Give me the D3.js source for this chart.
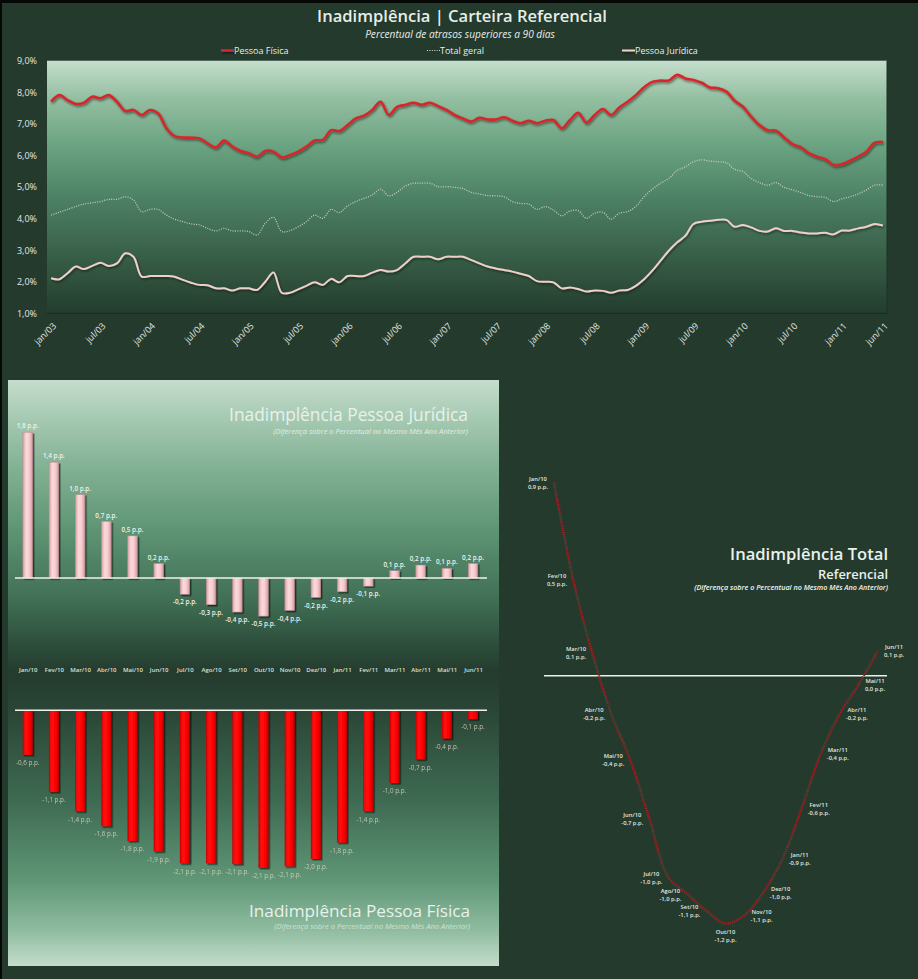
<!DOCTYPE html>
<html><head><meta charset="utf-8">
<script src="https://cdn.jsdelivr.net/npm/d3@7"></script>
<style>
body{margin:0;background:#243a2d;}
svg{display:block;font-family:'Open Sans',sans-serif;}
</style>
</head><body>
<svg id="c" width="918" height="979"></svg>
<script>
// ---------------- DATA ----------------
// monthly series jan/03 .. jun/11 (102 months), percent
const pessoaFisica = [7.70,7.91,7.75,7.63,7.67,7.86,7.81,7.91,7.70,7.41,7.44,7.28,7.44,7.33,6.86,6.61,6.57,6.56,6.54,6.38,6.25,6.47,6.28,6.14,6.07,5.96,6.14,6.12,5.94,6.01,6.12,6.28,6.47,6.49,6.80,6.77,6.96,7.17,7.26,7.44,7.70,7.28,7.54,7.60,7.67,7.60,7.67,7.56,7.44,7.28,
7.17,7.07,7.19,7.14,7.14,7.21,7.10,7.02,7.10,7.02,7.10,7.12,6.86,7.12,7.35,7.04,7.28,7.47,7.28,7.52,7.70,7.91,8.16,8.33,8.37,8.37,8.55,8.44,8.39,8.30,8.15,8.13,8.02,7.73,7.54,7.23,6.96,6.80,6.78,6.57,6.36,6.26,6.07,5.96,5.88,5.70,5.72,5.83,5.96,6.12,6.40,6.42];
const totalGeral = [4.11,4.20,4.29,4.38,4.46,4.50,4.54,4.61,4.61,4.69,4.59,4.22,4.29,4.29,4.11,3.98,3.90,3.83,3.80,3.69,3.61,3.69,3.61,3.61,3.59,3.48,3.85,4.04,3.59,3.62,3.74,3.90,4.11,4.01,4.29,4.19,4.40,4.54,4.64,4.75,4.93,4.72,4.83,5.03,5.12,5.12,5.12,5.01,5.01,4.99,
4.95,4.83,4.78,4.73,4.72,4.69,4.54,4.48,4.46,4.29,4.38,4.27,4.09,4.24,4.25,4.01,4.17,4.20,3.98,4.17,4.22,4.38,4.69,4.93,5.12,5.27,5.52,5.64,5.80,5.86,5.82,5.80,5.77,5.56,5.49,5.27,5.14,5.06,5.14,4.99,4.91,4.83,4.73,4.69,4.67,4.54,4.62,4.69,4.78,4.91,5.06,5.06];
const pessoaJuridica = [2.11,2.08,2.27,2.48,2.40,2.50,2.60,2.50,2.58,2.90,2.79,2.16,2.18,2.18,2.18,2.16,2.06,1.97,1.90,1.89,1.79,1.79,1.72,1.79,1.79,1.74,2.00,2.29,1.65,1.65,1.76,1.87,1.98,1.90,2.09,1.98,2.18,2.18,2.18,2.29,2.37,2.32,2.37,2.58,2.79,2.79,2.79,2.71,2.79,2.79,
2.79,2.69,2.58,2.48,2.42,2.37,2.32,2.25,2.18,2.02,2.00,1.98,1.79,1.82,1.77,1.69,1.72,1.71,1.65,1.72,1.74,1.87,2.08,2.35,2.67,2.98,3.24,3.45,3.83,3.90,3.93,3.96,3.96,3.74,3.80,3.72,3.61,3.59,3.69,3.61,3.61,3.56,3.53,3.53,3.55,3.50,3.62,3.62,3.69,3.74,3.83,3.78];
const topTickLabels = ["jan/03","jul/03","jan/04","jul/04","jan/05","jul/05","jan/06","jul/06","jan/07","jul/07","jan/08","jul/08","jan/09","jul/09","jan/10","jul/10","jan/11","jun/11"];
const yTicks = [1,2,3,4,5,6,7,8,9];
const legendNames = ["Pessoa Física","Total geral","Pessoa Jurídica"];

// year-on-year differences Jan/10 .. Jun/11 (p.p.)
const diffMonths = ["Jan/10","Fev/10","Mar/10","Abr/10","Mai/10","Jun/10","Jul/10","Ago/10","Set/10","Out/10","Nov/10","Dez/10","Jan/11","Fev/11","Mar/11","Abr/11","Mai/11","Jun/11"];
const diffPJ = [1.8,1.43,1.03,0.7,0.52,0.18,-0.2,-0.33,-0.42,-0.47,-0.4,-0.24,-0.17,-0.1,0.09,0.16,0.12,0.18];
const diffPF = [-0.6,-1.1,-1.36,-1.56,-1.76,-1.9,-2.06,-2.06,-2.07,-2.12,-2.1,-2.0,-1.78,-1.36,-0.98,-0.66,-0.38,-0.12];
const diffTotal = [0.92,0.46,0.11,-0.18,-0.40,-0.68,-0.96,-1.04,-1.12,-1.18,-1.14,-1.03,-0.87,-0.63,-0.37,-0.18,-0.04,0.12];
const totalLabelSide = ["l","l","l","l","l","l","l","l","l","b","r","r","r","r","r","r","r","r"];

// ---------------- HELPERS ----------------
const svg = d3.select('#c');
const defs = svg.append('defs');
function vGrad(id, stops){
  const g = defs.append('linearGradient').attr('id',id).attr('x1',0).attr('y1',0).attr('x2',0).attr('y2',1);
  stops.forEach(s=>g.append('stop').attr('offset',s[0]).attr('stop-color',s[1]));
}
function hGrad(id, stops){
  const g = defs.append('linearGradient').attr('id',id).attr('x1',0).attr('y1',0).attr('x2',1).attr('y2',0);
  stops.forEach(s=>g.append('stop').attr('offset',s[0]).attr('stop-color',s[1]));
}
vGrad('plotGrad',[[0,'#c4decc'],[0.15,'#93bfa1'],[0.35,'#68a17f'],[0.55,'#4c8064'],[0.75,'#3a624a'],[1,'#233d2e']]);
vGrad('panelGrad',[[0,'#c5ddcc'],[0.06,'#a8cbb4'],[0.154,'#80b092'],[0.256,'#5e9474'],[0.375,'#406f55'],[0.461,'#2b4a38'],[0.5,'#243b2e'],[0.56,'#2a4535'],[0.717,'#3e6a52'],[0.853,'#5f9676'],[0.939,'#8fbca0'],[1,'#c5ddcc']]);
hGrad('pinkGrad',[[0,'#d9a0a6'],[0.35,'#fbd9db'],[0.65,'#f7cdd0'],[1,'#d39aa0']]);
hGrad('redGrad',[[0,'#c80000'],[0.3,'#ff1010'],[0.7,'#ff0000'],[1,'#b80000']]);
const f = defs.append('filter').attr('id','shadow').attr('filterUnits','userSpaceOnUse')
  .attr('x',0).attr('y',0).attr('width',918).attr('height',979);
f.append('feDropShadow').attr('dx',1).attr('dy',1.5).attr('stdDeviation',0.8).attr('flood-color','#000').attr('flood-opacity',0.5);
const f2 = defs.append('filter').attr('id','barShadow').attr('x','-50%').attr('y','-10%').attr('width','200%').attr('height','130%');
f2.append('feDropShadow').attr('dx',1.5).attr('dy',1.5).attr('stdDeviation',0.7).attr('flood-color','#000').attr('flood-opacity',0.6);

function fit(sel, w){
  const n = sel.node(); const l = n.getComputedTextLength();
  const fs = parseFloat(sel.attr('font-size'));
  if(l>0) sel.attr('font-size', (fs*w/l).toFixed(2));
  return sel;
}
const fmtPP = v => { let s = v.toFixed(1); if (s==='-0.0') s='0.0'; return s.replace('.',',')+' p.p.'; };

// ---------------- BACKGROUND ----------------
svg.append('rect').attr('width',918).attr('height',979).attr('fill','#243a2d');
svg.append('rect').attr('width',918).attr('height',3).attr('fill','#050805');
svg.append('rect').attr('width',2).attr('height',979).attr('fill','#050805');

// ---------------- TOP CHART ----------------
const P = {l:47, r:887, t:60.7, b:313.3};
const x = d3.scaleLinear().domain([0, pessoaFisica.length-1]).range([51.1, 882.9]);
const y = d3.scaleLinear().domain([1,9]).range([P.b, P.t]);

fit(svg.append('text').attr('x',462).attr('y',22).attr('text-anchor','middle').attr('font-size',16)
  .attr('font-weight',600).attr('fill','#e6eee8').text('Inadimplência | Carteira Referencial'), 290);
fit(svg.append('text').attr('x',460).attr('y',37.5).attr('text-anchor','middle').attr('font-size',9)
  .attr('font-style','italic').attr('fill','#e6eee8').text('Percentual de atrasos superiores a 90 dias'), 190);

svg.append('rect').attr('x',P.l).attr('y',P.t).attr('width',P.r-P.l).attr('height',P.b-P.t).attr('fill','url(#plotGrad)');
svg.append('line').attr('x1',P.r).attr('x2',P.r).attr('y1',P.t).attr('y2',P.b).attr('stroke','#1d3326').attr('stroke-width',1);

const line = d3.line().x((d,i)=>x(i)).y(d=>y(d)).curve(d3.curveCatmullRom.alpha(0.5));
svg.append('path').datum(totalGeral).attr('d',line).attr('fill','none').attr('stroke','#d7dcd2')
  .attr('stroke-width',1.3).attr('stroke-dasharray','1,1.4').attr('opacity',0.85);
svg.append('path').datum(pessoaJuridica).attr('d',line).attr('fill','none').attr('stroke','#efd0c9')
  .attr('stroke-width',2).attr('filter','url(#shadow)');
svg.append('path').datum(pessoaFisica).attr('d',line).attr('fill','none').attr('stroke','#d7262c')
  .attr('stroke-width',2.6).attr('filter','url(#shadow)');

// axes
const yAxis = svg.append('g').attr('transform',`translate(${P.l},0)`)
  .call(d3.axisLeft(y).tickValues(yTicks).tickSize(0).tickPadding(10).tickFormat(d=>d.toFixed(1).replace('.',',')+'%'));
yAxis.select('.domain').remove();
yAxis.selectAll('text').attr('fill','#e2e9e2').attr('font-size',9).attr('font-family','Open Sans');

const tickIdx = topTickLabels.map(s=>{
  const mm = {jan:0,fev:1,mar:2,abr:3,mai:4,jun:5,jul:6,ago:7,set:8,out:9,nov:10,dez:11}[s.slice(0,3)];
  return (2000+ +s.slice(4)-2003)*12+mm;
});
const xAxis = svg.append('g').attr('transform',`translate(0,${P.b})`)
  .call(d3.axisBottom(x).tickValues(tickIdx).tickSize(0).tickFormat((d,i)=>topTickLabels[i]));
xAxis.select('.domain').attr('stroke','#1b2d22').attr('stroke-width',1.2).attr('d',`M${P.l},0H${P.r}`);
xAxis.selectAll('text').attr('fill','#e2e9e2').attr('font-size',9).attr('font-family','Open Sans')
  .attr('text-anchor','end').attr('x',0).attr('y',0).attr('dy','0.35em')
  .attr('transform','translate(3,11) rotate(-45)');

// legend
const legX = [221, 427, 622];
const legY = 50.5;
legendNames.forEach((nm,i)=>{
  const g = svg.append('g');
  const ln = g.append('line').attr('x1',legX[i]).attr('x2',legX[i]+13).attr('y1',legY).attr('y2',legY);
  if(i===0) ln.attr('stroke','#d7262c').attr('stroke-width',2.6).attr('filter','url(#shadow)');
  if(i===1) ln.attr('stroke','#d7dcd2').attr('stroke-width',1.2).attr('stroke-dasharray','1,1.4');
  if(i===2) ln.attr('stroke','#efd0c9').attr('stroke-width',2).attr('filter','url(#shadow)');
  g.append('text').attr('x',legX[i]+13).attr('y',legY).attr('dy','0.35em').attr('font-size',9)
    .attr('fill','#e6eee8').text(nm);
});

// ---------------- LEFT PANEL (bars) ----------------
svg.append('rect').attr('x',8).attr('y',380).attr('width',491).attr('height',586).attr('fill','url(#panelGrad)');

const xb = d3.scalePoint().domain(diffMonths).range([27.7, 473]);
const barW = 9.6;

// PJ
const yPJ = d3.scaleLinear().domain([-0.6,1.9]).range([578+0.6*81, 578-1.9*81]);
svg.append('g').selectAll('rect').data(diffPJ).join('rect')
  .attr('x',(d,i)=>xb(diffMonths[i])-barW/2).attr('width',barW)
  .attr('y',d=>Math.min(yPJ(d),yPJ(0))).attr('height',d=>Math.abs(yPJ(d)-yPJ(0)))
  .attr('fill','url(#pinkGrad)').attr('stroke','#b88890').attr('stroke-width',0.5).attr('filter','url(#barShadow)');
svg.append('line').attr('x1',15).attr('x2',487).attr('y1',yPJ(0)).attr('y2',yPJ(0)).attr('stroke','#f0f2f0').attr('stroke-width',1.5);
svg.append('g').selectAll('text').data(diffPJ).join('text')
  .attr('x',(d,i)=>xb(diffMonths[i])).attr('y',d=> d>=0 ? yPJ(d)-6 : yPJ(d)+8)
  .attr('dy','0.35em').attr('text-anchor','middle').attr('font-size',6.3).attr('font-weight',600)
  .attr('fill','#eef2ee').text(fmtPP);

fit(svg.append('text').attr('x',468).attr('y',421).attr('text-anchor','end').attr('font-size',16)
  .attr('fill','#e9f1eb').text('Inadimplência Pessoa Jurídica'), 239);
fit(svg.append('text').attr('x',468).attr('y',433.5).attr('text-anchor','end').attr('font-size',5.5)
  .attr('font-style','italic').attr('fill','#e3ede5').text('(Diferença sobre o Percentual no Mesmo Mês Ano Anterior)'), 195);

// month labels
const mAxis = svg.append('g').attr('transform','translate(0,668)')
  .call(d3.axisBottom(xb).tickSize(0).tickPadding(0));
mAxis.select('.domain').remove();
mAxis.selectAll('text').attr('fill','#d9e1d9').attr('font-size',6).attr('font-weight',600).attr('font-family','Open Sans');

// PF
const yPF = d3.scaleLinear().domain([-2.5,0]).range([710.3+2.5*74.3, 710.3]);
svg.append('g').selectAll('rect').data(diffPF).join('rect')
  .attr('x',(d,i)=>xb(diffMonths[i])-5).attr('width',10)
  .attr('y',d=>Math.min(yPF(d),yPF(0))).attr('height',d=>Math.abs(yPF(d)-yPF(0)))
  .attr('fill','url(#redGrad)').attr('filter','url(#barShadow)');
svg.append('line').attr('x1',15).attr('x2',487).attr('y1',yPF(0)).attr('y2',yPF(0)).attr('stroke','#f0f2f0').attr('stroke-width',1.5);
svg.append('g').selectAll('text').data(diffPF).join('text')
  .attr('x',(d,i)=>xb(diffMonths[i])).attr('y',d=>yPF(d)+8)
  .attr('dy','0.35em').attr('text-anchor','middle').attr('font-size',6.3)
  .attr('fill','#d8d3bd').attr('opacity',0.85).text(fmtPP);

fit(svg.append('text').attr('x',470).attr('y',917).attr('text-anchor','end').attr('font-size',16)
  .attr('fill','#e9f1eb').text('Inadimplência Pessoa Física'), 221);
fit(svg.append('text').attr('x',470).attr('y',929).attr('text-anchor','end').attr('font-size',5.5)
  .attr('font-style','italic').attr('fill','#cfe2d4').text('(Diferença sobre o Percentual no Mesmo Mês Ano Anterior)'), 196);

// ---------------- RIGHT PANEL (total line) ----------------
const xr = d3.scalePoint().domain(diffMonths).range([554, 878]);
const yr = d3.scaleLinear().domain([-1.25,1]).range([675.7+1.25*210, 675.7-1*210]);

fit(svg.append('text').attr('x',888).attr('y',560).attr('text-anchor','end').attr('font-size',16)
  .attr('font-weight',600).attr('fill','#e9f1eb').text('Inadimplência Total'), 158);
fit(svg.append('text').attr('x',888).attr('y',578.5).attr('text-anchor','end').attr('font-size',13)
  .attr('font-weight',600).attr('fill','#e9f1eb').text('Referencial'), 70);
fit(svg.append('text').attr('x',888).attr('y',590).attr('text-anchor','end').attr('font-size',5.5)
  .attr('font-style','italic').attr('font-weight',600).attr('fill','#f2f5f2').text('(Diferença sobre o Percentual no Mesmo Mês Ano Anterior)'), 194);

svg.append('line').attr('x1',544).attr('x2',887).attr('y1',yr(0)).attr('y2',yr(0)).attr('stroke','#eef0ee').attr('stroke-width',1.5);
const rline = d3.line().x((d,i)=>xr(diffMonths[i])).y(d=>yr(d)).curve(d3.curveCatmullRom.alpha(0.5));
svg.append('path').datum(diffTotal).attr('d',rline).attr('fill','none').attr('stroke','#9a2324')
  .attr('stroke-width',2.6).attr('stroke-dasharray','1.2,1');

const lg = svg.append('g').attr('font-size',5.8).attr('fill','#e1e8e1').attr('font-weight',600);
diffTotal.forEach((v,i)=>{
  const px = xr(diffMonths[i]), py = yr(v);
  const t = lg.append('text').attr('text-anchor','middle');
  const a = t.append('tspan').text(diffMonths[i]);
  const b = t.append('tspan').text(fmtPP(v));
  const w = Math.max(a.node().getComputedTextLength(), b.node().getComputedTextLength());
  const side = totalLabelSide[i];
  let cx = px, cy = py;
  if(side==='l'){ cx = px - 6 - w/2; }
  else if(side==='r'){ cx = px + 6 + w/2; }
  else { cy = py + 12; }
  a.attr('x',cx).attr('y',cy-1.5);
  b.attr('x',cx).attr('y',cy+6.5);
});
</script>
</body></html>
